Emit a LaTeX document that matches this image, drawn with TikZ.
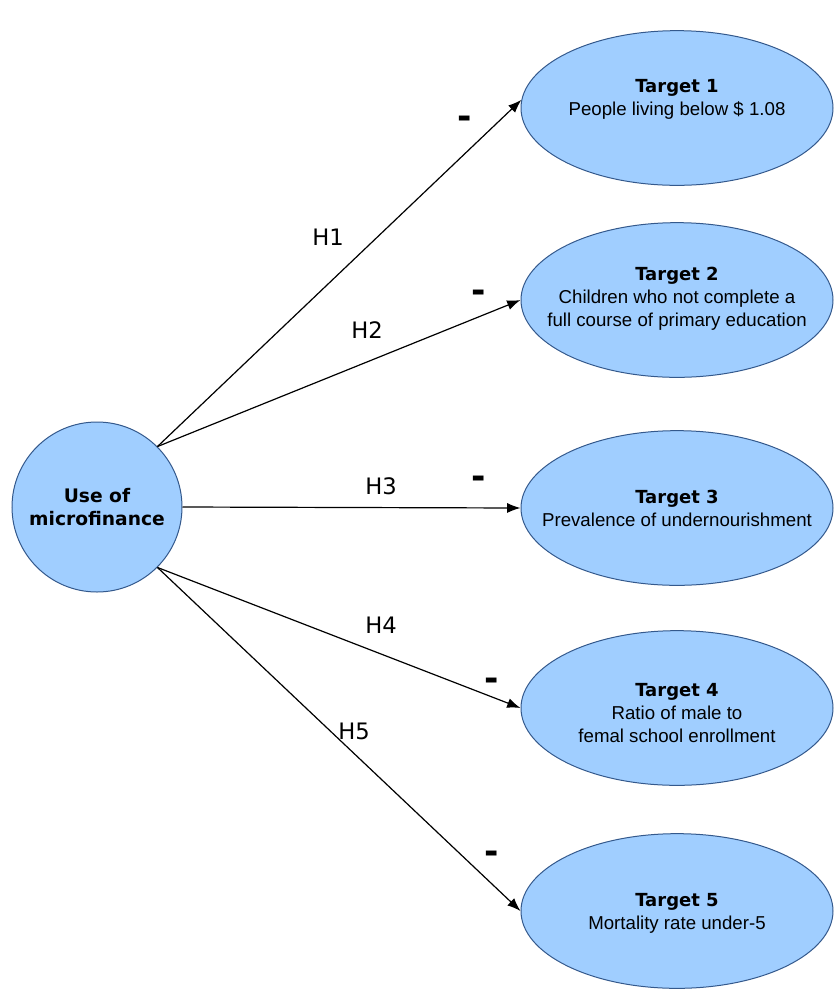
\documentclass[tikz,border=0pt]{standalone}
\usepackage{fontspec}
\setmainfont{DejaVu Sans}
\newfontfamily\arialfont{Liberation Sans}
\usetikzlibrary{shapes.geometric,arrows.meta}
\definecolor{nodefill}{RGB}{160,206,255}
\definecolor{nodeline}{RGB}{52,89,140}

\begin{document}
\begin{tikzpicture}[x=0.75pt,y=-0.75pt,
    usenode/.style={circle,draw=nodeline,fill=nodefill,line width=0.75pt,minimum size=127.5pt,inner sep=0pt,align=center,font=\fontsize{14}{17}\selectfont\bfseries},
    target/.style={ellipse,draw=nodeline,fill=nodefill,line width=0.75pt,minimum width=234pt,minimum height=116pt,inner sep=0pt},
    targettext/.style={align=center,font=\fontsize{14}{17.25}\selectfont\arialfont},
    hyp/.style={font=\fontsize{17}{17}\selectfont},
    sign/.style={font=\fontsize{26}{26}\selectfont\bfseries},
    arr/.style={line width=0.9pt,-{Latex[length=10pt,width=7.5pt]}}]
    \useasboundingbox (0,0) rectangle (836,990);
    % Independent variable
    \node[usenode] (use) at (97,507) {Use of\\microfinance};
    % Targets
    \node[target] (t1) at (677,108) {};
    \node[target] (t2) at (677,300) {};
    \node[target] (t3) at (677,508) {};
    \node[target] (t4) at (677,708) {};
    \node[target] (t5) at (677,911) {};
    \node[targettext] (t1txt) at (677,99) {{\normalfont\fontsize{13.5}{17.25}\selectfont\bfseries Target 1}\\People living below \$ 1.08};
    \node[targettext] (t2txt) at (677,299) {{\normalfont\fontsize{13.5}{17.25}\selectfont\bfseries Target 2}\\Children who not complete a\\full course of primary education};
    \node[targettext] (t3txt) at (677,508) {{\normalfont\fontsize{13.5}{17.25}\selectfont\bfseries Target 3}\\Prevalence of undernourishment};
    \node[targettext] (t4txt) at (677,713) {{\normalfont\fontsize{13.5}{17.25}\selectfont\bfseries Target 4}\\Ratio of male to\\femal school enrollment};
    \node[targettext] (t5txt) at (677,913) {{\normalfont\fontsize{13.5}{17.25}\selectfont\bfseries Target 5}\\Mortality rate under-5};
    % Hypotheses
    \draw[arr] (use.45) -- (t1.177);
    \draw[arr] (use.45) -- (t2.west);
    \draw[arr] (use.east) -- (t3.west);
    \draw[arr] (use.-45) -- (t4.west);
    \draw[arr] (use.-45) -- (t5.west);
    \node[hyp] (h1) at (328,237) {H1};
    \node[hyp] (h2) at (367,330) {H2};
    \node[hyp] (h3) at (381,486) {H3};
    \node[hyp] (h4) at (381,625) {H4};
    \node[hyp] (h5) at (354,731) {H5};
    % Signs
    \node[sign] (s1) at (465,122) {-};
    \node[sign] (s2) at (479,296) {-};
    \node[sign] (s3) at (479,482) {-};
    \node[sign] (s4) at (492,684) {-};
    \node[sign] (s5) at (492,857) {-};
\end{tikzpicture}
\end{document}
